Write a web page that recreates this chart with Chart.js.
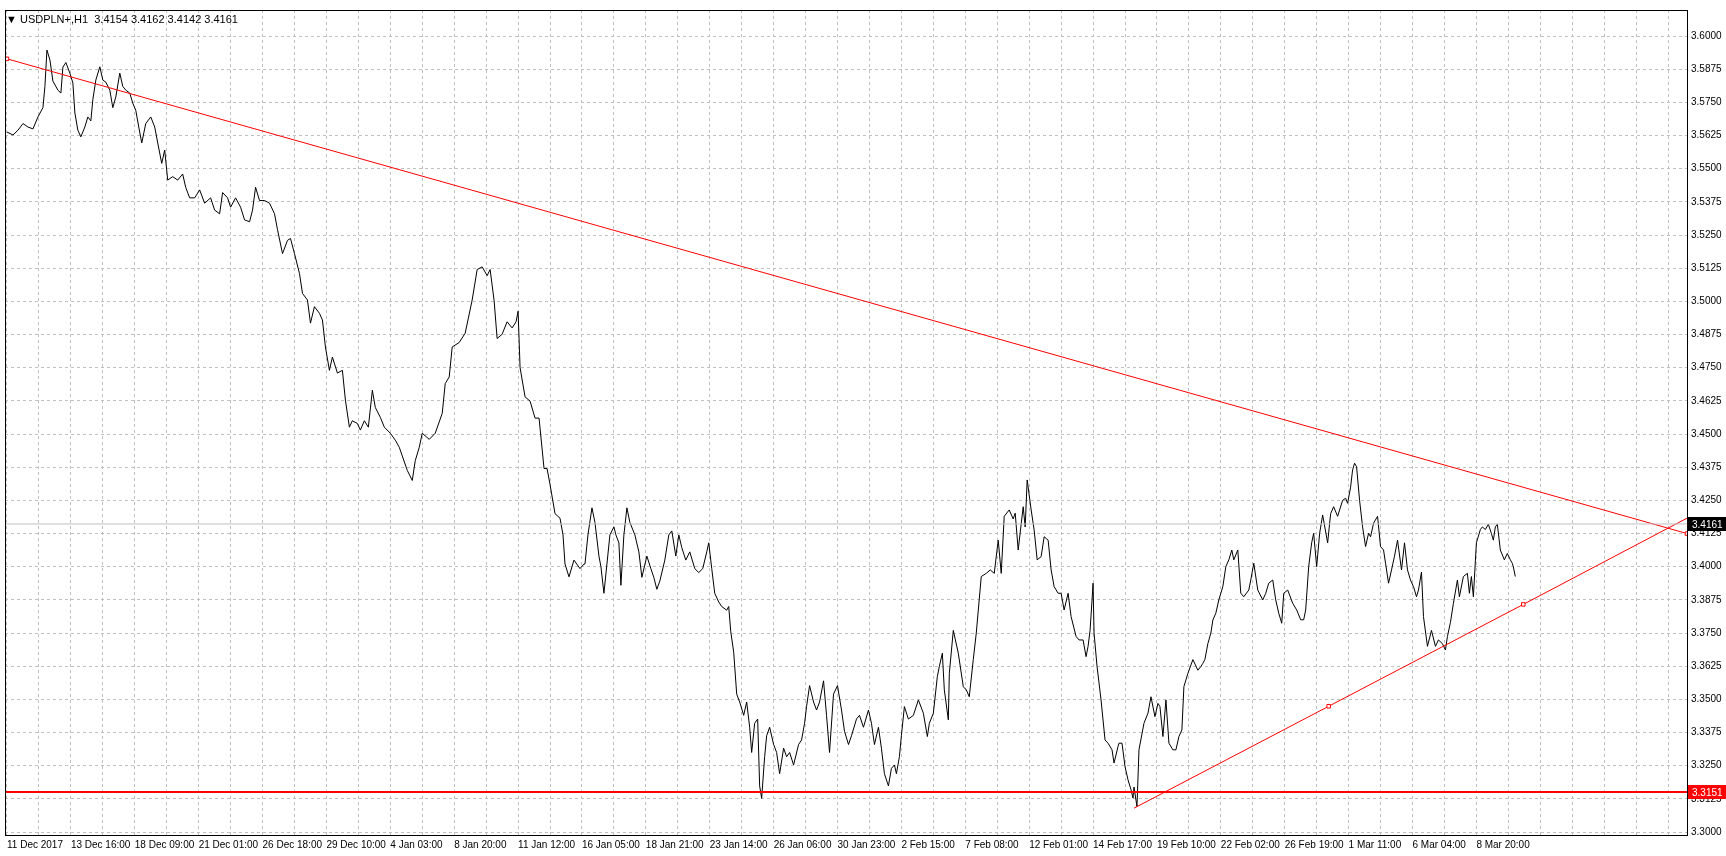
<!DOCTYPE html>
<html>
<head>
<meta charset="utf-8">
<script src="https://cdn.jsdelivr.net/npm/chart.js@4.4.1/dist/chart.umd.min.js"></script>
<style>
  html, body { margin: 0; padding: 0; background: #fff; }
  #wrap { position: relative; width: 1726px; height: 856px; }
  #title { position: absolute; left: 6px; top: 13px; font: 11px "Liberation Sans", Arial, sans-serif; color: #000; }
</style>
</head>
<body>
<div id="wrap">
  <canvas id="chart" width="1726" height="856"></canvas>
  <div id="title">&#9660; USDPLN+,H1&nbsp; 3.4154 3.4162 3.4142 3.4161</div>
</div>
<script>
// x positions are hourly bars counted from 11 Dec 2017 00:00
const timeLabels = ['11 Dec 2017', '13 Dec 16:00', '18 Dec 09:00', '21 Dec 01:00', '26 Dec 18:00',
  '29 Dec 10:00', '4 Jan 03:00', '8 Jan 20:00', '11 Jan 12:00', '16 Jan 05:00', '18 Jan 21:00',
  '23 Jan 14:00', '26 Jan 06:00', '30 Jan 23:00', '2 Feb 15:00', '7 Feb 08:00', '12 Feb 01:00',
  '14 Feb 17:00', '19 Feb 10:00', '22 Feb 02:00', '26 Feb 19:00', '1 Mar 11:00', '6 Mar 04:00',
  '8 Mar 20:00'];

const barX = [0,6,11,16,21,26,31,36,38,40,43,46,51,54,56,59,63,66,68,71,74,78,81,84,86,89,93,96,99,103,
  106,109,113,116,119,123,126,129,132,135,139,144,148,151,155,158,161,166,171,176,179,183,188,193,198,204,
  208,213,216,221,224,229,234,238,243,246,249,253,258,263,268,271,276,281,284,288,293,296,301,304,308,313,
  316,319,323,326,331,336,339,343,346,351,354,358,362,366,369,374,378,384,389,393,401,406,409,413,416,423,
  429,436,439,443,446,453,459,466,471,476,481,484,488,491,496,501,506,510,512,514,519,524,529,533,538,541,
  544,549,554,557,559,563,568,574,578,579,582,586,589,593,595,598,601,604,608,610,613,615,618,621,624,629,
  633,636,641,645,648,651,654,659,663,666,670,673,676,680,684,689,693,697,701,703,706,709,713,716,721,723,
  725,728,731,734,738,741,744,746,749,752,754,756,759,761,764,768,771,774,778,781,784,788,793,796,799,801,
  804,808,811,814,818,821,824,828,832,836,839,843,846,851,854,858,863,866,869,873,876,879,883,886,889,891,
  894,896,899,903,908,913,918,922,924,928,932,934,937,939,943,944,948,953,958,961,964,968,971,976,981,985,
  989,993,996,999,1004,1008,1010,1013,1018,1020,1022,1026,1029,1032,1036,1039,1043,1046,1049,1053,1056,
  1059,1063,1066,1071,1074,1078,1081,1083,1085,1087,1088,1089,1092,1096,1100,1103,1107,1109,1113,1114,
  1117,1120,1123,1126,1128,1129,1132,1134,1139,1143,1146,1150,1153,1155,1158,1161,1164,1168,1171,1174,
  1177,1179,1183,1188,1193,1196,1198,1200,1203,1206,1208,1211,1214,1218,1221,1224,1227,1229,1233,1236,
  1239,1244,1246,1249,1253,1258,1261,1264,1268,1271,1274,1277,1279,1283,1288,1292,1296,1299,1301,1304,
  1307,1309,1312,1315,1318,1323,1326,1329,1333,1338,1341,1343,1346,1348,1350,1352,1355,1358,1361,1364,
  1366,1369,1373,1376,1379,1381,1384,1387,1390,1393,1397,1400,1403,1406,1409,1412,1414,1417,1419,1423,
  1427,1431,1434,1438,1441,1443,1446,1449,1453,1455,1459,1463,1465,1467,1469,1472,1476,1478,1481,1484,
  1487,1489,1491,1493,1496,1500,1503,1506,1508,1509,1511];

const closePrice = [3.5638,3.5627,3.5645,3.5670,3.5657,3.5650,3.5695,3.5730,3.5810,3.5947,3.5910,3.5830,
  3.5796,3.5785,3.5883,3.5900,3.5860,3.5823,3.5710,3.5645,3.5620,3.5657,3.5695,3.5680,3.5760,3.5834,
  3.5884,3.5834,3.5826,3.5796,3.5730,3.5770,3.5860,3.5810,3.5796,3.5785,3.5747,3.5720,3.5657,3.5597,
  3.5670,3.5695,3.5657,3.5597,3.5520,3.5570,3.5457,3.5470,3.5457,3.5480,3.5430,3.5390,3.5390,3.5420,
  3.5370,3.5390,3.5344,3.5330,3.5410,3.5390,3.5355,3.5390,3.5355,3.5307,3.5300,3.5344,3.5430,3.5380,
  3.5380,3.5370,3.5330,3.5270,3.5180,3.5230,3.5237,3.5180,3.5105,3.5030,3.5005,3.4918,3.4980,3.4955,
  3.4930,3.4828,3.4740,3.4790,3.4730,3.4740,3.4628,3.4526,3.4550,3.4540,3.4515,3.4550,3.4526,3.4665,
  3.4600,3.4563,3.4526,3.4503,3.4477,3.4450,3.4363,3.4325,3.4400,3.4450,3.4503,3.4480,3.4503,3.4578,
  3.4690,3.4715,3.4828,3.4845,3.4880,3.5005,3.5120,3.5130,3.5097,3.5120,3.5002,3.4860,3.4876,3.4923,
  3.4900,3.4923,3.4963,3.4750,3.4640,3.4624,3.4560,3.4560,3.4370,3.4370,3.4310,3.4200,3.4183,3.4120,
  3.4010,3.3962,3.4025,3.3993,3.4010,3.4010,3.4120,3.4222,3.4167,3.4040,3.4000,3.3900,3.4010,3.4120,
  3.4150,3.4120,3.4090,3.3930,3.4120,3.4222,3.4167,3.4120,3.4056,3.3960,3.4040,3.3993,3.3960,3.3915,
  3.3946,3.4025,3.4120,3.4135,3.4040,3.4120,3.4072,3.4025,3.4056,3.3993,3.3978,3.3993,3.4056,3.4090,
  3.3993,3.3900,3.3867,3.3850,3.3836,3.3850,3.3757,3.3678,3.3520,3.3490,3.3440,3.3490,3.3395,3.3300,
  3.3410,3.3426,3.3174,3.3127,3.3284,3.3363,3.3395,3.3330,3.3300,3.3220,3.3316,3.3284,3.3300,3.3253,
  3.3330,3.3347,3.3410,3.3473,3.3552,3.3490,3.3460,3.3490,3.3570,3.3440,3.3300,3.3520,3.3552,3.3460,
  3.3380,3.3330,3.3363,3.3426,3.3440,3.3395,3.3460,3.3410,3.3330,3.3395,3.3316,3.3220,3.3174,3.3240,
  3.3253,3.3220,3.3284,3.3363,3.3473,3.3426,3.3440,3.3498,3.3448,3.3360,3.3410,3.3448,3.3586,3.3624,
  3.3674,3.3536,3.3423,3.3598,3.3760,3.3674,3.3548,3.3536,3.3510,3.3650,3.3750,3.3963,3.3975,3.3988,
  3.3975,3.4100,3.3975,3.4190,3.4214,3.4180,3.4202,3.4063,3.4226,3.4150,3.4327,3.4214,3.4138,3.4026,
  3.4038,3.4113,3.4100,3.3988,3.3925,3.3900,3.3900,3.3837,3.3900,3.3812,3.3737,3.3724,3.3724,3.3661,
  3.3700,3.3760,3.3875,3.3938,3.3750,3.3624,3.3498,3.3347,3.3335,3.3310,3.3260,3.3322,3.3335,3.3335,
  3.3247,3.3197,3.3160,3.3128,3.3170,3.3096,3.3310,3.3410,3.3448,3.3510,3.3435,3.3485,3.3473,3.3360,
  3.3498,3.3335,3.3310,3.3310,3.3360,3.3385,3.3548,3.3598,3.3650,3.3610,3.3624,3.3636,3.3650,3.3710,
  3.3750,3.3799,3.3825,3.3875,3.3925,3.4000,3.4026,3.4063,3.4026,3.4063,3.3900,3.3887,3.3912,3.3950,
  3.4013,3.3912,3.3875,3.3900,3.3938,3.3950,3.3875,3.3825,3.3787,3.3900,3.3912,3.3862,3.3837,3.3800,
  3.3800,3.3837,3.4000,3.4090,3.4126,3.4000,3.4126,3.4195,3.4090,3.4200,3.4226,3.4190,3.4250,3.4258,
  3.4239,3.4300,3.4365,3.4390,3.4377,3.4250,3.4150,3.4076,3.4126,3.4113,3.4164,3.4190,3.4076,3.4063,
  3.4013,3.3938,3.3988,3.4040,3.4100,3.3988,3.4090,3.3988,3.3950,3.3925,3.3887,3.3912,3.3980,3.3812,
  3.3700,3.3760,3.3700,3.3724,3.3710,3.3686,3.3737,3.3790,3.3862,3.3950,3.3887,3.3963,3.3975,3.3900,
  3.3963,3.3887,3.4090,3.4140,3.4150,3.4140,3.4160,3.4126,3.4100,3.4150,3.4160,3.4063,3.4026,3.4050,
  3.4026,3.4013,3.4000,3.3963,3.4090,3.4161];

const resistanceLine = [[0, 3.5914], [1683, 3.4125]];
const supportLine = [[1129, 3.3090], [1324, 3.3474], [1519, 3.3858], [1683, 3.4183]];
const supportMarks = [0, 1, 1, 0];
const levelPrice = 3.3151;
const lastPrice = 3.4161;

const pricePoints = barX.map((x, i) => ({ x: x, y: closePrice[i] }));

const frameAndLabels = {
  id: 'frameAndLabels',
  afterDraw(chart) {
    const ctx = chart.ctx, ys = chart.scales.y, area = chart.chartArea;
    ctx.save();
    ctx.strokeStyle = '#000';
    ctx.lineWidth = 1;
    ctx.strokeRect(area.left + 0.5, area.top + 0.5, area.right - area.left, area.bottom - area.top);
    [[lastPrice, '#000'], [levelPrice, '#ff0000']].forEach(([p, bg]) => {
      const yy = ys.getPixelForValue(p);
      ctx.fillStyle = bg;
      ctx.fillRect(area.right + 1, yy - 7, 38, 14);
      ctx.fillStyle = '#fff';
      ctx.font = '10px "Liberation Sans", Arial';
      ctx.textBaseline = 'middle';
      ctx.fillText(p.toFixed(4), area.right + 5, yy + 1);
    });
    ctx.restore();
  }
};

new Chart(document.getElementById('chart'), {
  type: 'line',
  data: {
    datasets: [
      { data: [[-2, lastPrice], [1683, lastPrice]].map(p => ({ x: p[0], y: p[1] })),
        borderColor: '#c0c0c0', borderWidth: 1, pointRadius: 0 },
      { data: [[-2, levelPrice], [1683, levelPrice]].map(p => ({ x: p[0], y: p[1] })),
        borderColor: '#ff0000', borderWidth: 2, pointRadius: 0 },
      { data: resistanceLine.map(p => ({ x: p[0], y: p[1] })),
        borderColor: '#ff0000', borderWidth: 1, pointRadius: [2.5, 2.5], pointStyle: 'rect',
        pointBackgroundColor: '#fff', pointBorderColor: '#ff0000', pointBorderWidth: 1 },
      { data: supportLine.map(p => ({ x: p[0], y: p[1] })),
        borderColor: '#ff0000', borderWidth: 1, pointRadius: supportMarks.map(m => m ? 2.5 : 0),
        pointStyle: 'rect', pointBackgroundColor: '#fff', pointBorderColor: '#ff0000', pointBorderWidth: 1 },
      { data: pricePoints, borderColor: '#000', borderWidth: 1, pointRadius: 0, tension: 0 }
    ]
  },
  options: {
    responsive: false,
    animation: false,
    clip: true,
    layout: { padding: { left: 2, top: 2, right: 0, bottom: 0 } },
    plugins: { legend: { display: false }, tooltip: { enabled: false } },
    scales: {
      x: {
        type: 'linear', min: -2, max: 1683,
        afterBuildTicks(axis) {
          const t = [];
          for (let v = 0; v <= 1683; v += 32) t.push({ value: v });
          axis.ticks = t;
        },
        afterFit(axis) { axis.height = 21; },
        grid: { color: '#c0c0c0', drawTicks: false },
        border: { display: true, color: '#000', dash: [3, 3] },
        ticks: {
          autoSkip: false, maxRotation: 0, align: 'start', padding: 4,
          font: { family: '"Liberation Sans", Arial', size: 10 }, color: '#000',
          callback: v => (v % 64 === 0 ? timeLabels[v / 64] || '' : '')
        }
      },
      y: {
        position: 'right', min: 3.2989, max: 3.6098,
        afterBuildTicks(axis) {
          const t = [];
          for (let k = 0; k <= 24; k++) t.push({ value: 3.3 + k * 0.0125 });
          axis.ticks = t;
        },
        afterFit(axis) { axis.width = 39; },
        grid: { color: '#c0c0c0', drawTicks: false },
        border: { display: true, color: '#000', dash: [3, 3] },
        ticks: {
          padding: 4, font: { family: '"Liberation Sans", Arial', size: 10 }, color: '#000',
          callback: v => v.toFixed(4)
        }
      }
    }
  },
  plugins: [frameAndLabels]
});
</script>
</body>
</html>
